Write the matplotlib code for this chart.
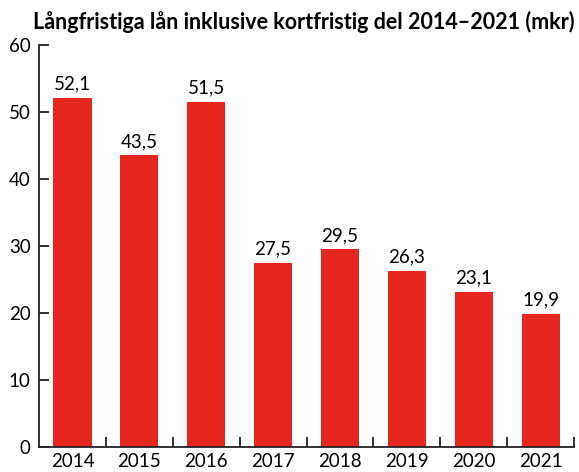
import matplotlib.pyplot as plt
import numpy as np

years = ['2014', '2015', '2016', '2017', '2018', '2019', '2020', '2021']
values = [52.1, 43.5, 51.5, 27.5, 29.5, 26.3, 23.1, 19.9]
labels = ['52,1', '43,5', '51,5', '27,5', '29,5', '26,3', '23,1', '19,9']
title = 'Långfristiga lån inklusive kortfristig del 2014–2021 (mkr)'

plt.rcParams['font.family'] = ['Lato', 'DejaVu Sans']

fig = plt.figure(figsize=(5.79, 4.72), dpi=100)
ax = fig.add_axes([0.0674, 0.053, 0.924, 0.852])

x = np.arange(len(years))
ax.bar(x, values, width=0.57, color='#e5271f')
for xi, v, lab in zip(x, values, labels):
    ax.text(xi, v + 0.8, lab, ha='center', va='bottom', fontsize=13.5)

ax.set_xlim(-0.5, len(years) - 0.5)
ax.set_ylim(0, 60)
ax.set_yticks(range(0, 61, 10))
ax.set_xticks(x)
ax.set_xticklabels(years)
ax.set_xticks(np.arange(0.5, len(years), 1), minor=True)

for s in ['top', 'right']:
    ax.spines[s].set_visible(False)
for s in ['left', 'bottom']:
    ax.spines[s].set_linewidth(1.3)
    ax.spines[s].set_color('#222222')

ax.tick_params(axis='y', direction='in', length=7, width=1.3, labelsize=13.5, pad=6, color='#222222')
ax.tick_params(axis='x', which='major', length=0, labelsize=13.5, pad=4)
ax.tick_params(axis='x', which='minor', direction='in', length=7, width=1.3, color='#222222')

fig.text(0.057, 0.953, title, fontsize=15.5, fontweight='bold', ha='left', va='center')

fig.savefig('out.png', dpi=100)
